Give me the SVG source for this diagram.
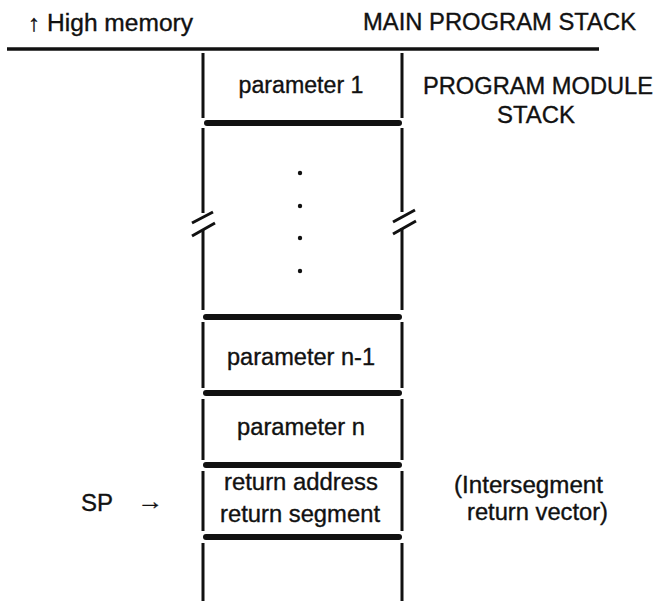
<svg xmlns="http://www.w3.org/2000/svg" width="658" height="601" viewBox="0 0 658 601">
  <style>
    .t { font-family: "Liberation Sans", Arial, sans-serif; font-size: 23px; fill: #111; stroke: #111; stroke-width: 0.35; }
    .c { text-anchor: middle; }
    .wall { stroke: #111; stroke-width: 3; fill: none; }
    .sep { stroke: #111; stroke-width: 6; stroke-linecap: round; fill: none; }
    .brk { stroke: #111; stroke-width: 3; fill: none; }
  </style>
  <rect width="658" height="601" fill="#fff"/>

  <!-- headings -->
  <g id="high-memory">
    <text class="t" x="28" y="31" textLength="165" lengthAdjust="spacingAndGlyphs">↑ High memory</text>
  </g>
  <g id="main-stack-label">
    <text class="t" x="363" y="30" textLength="273" lengthAdjust="spacingAndGlyphs">MAIN PROGRAM STACK</text>
  </g>
  <g id="main-stack-top">
    <line x1="7" y1="49" x2="599" y2="49" stroke="#111" stroke-width="3.5"/>
  </g>
  <g id="module-stack-label">
    <text class="t c" x="538" y="94" textLength="230" lengthAdjust="spacingAndGlyphs">PROGRAM MODULE</text>
    <text class="t c" x="536" y="123" textLength="78" lengthAdjust="spacingAndGlyphs">STACK</text>
  </g>

  <!-- stack walls and slot dividers -->
  <g id="connectors">
    <path class="wall" d="M203 53V118 M203 128V213 M203 230V310 M203 322V388 M203 399V460 M203 471V531 M203 543V601"/>
    <path class="wall" d="M402 53V118 M402 128V212 M402 228V310 M402 322V388 M402 399V460 M402 471V531 M402 543V601"/>
    <line class="sep" x1="207" y1="123" x2="399" y2="123"/>
    <line class="sep" x1="206" y1="317" x2="399" y2="317"/>
    <line class="sep" x1="206" y1="393" x2="399" y2="393"/>
    <line class="sep" x1="206" y1="465" x2="399" y2="465"/>
    <line class="sep" x1="206" y1="537" x2="399" y2="537"/>
    <!-- break marks on the walls -->
    <path class="brk" d="M192 223L213 212 M192 236L215 223"/>
    <path class="brk" d="M393 222L415 210 M393 234L416 221"/>
  </g>

  <!-- stack slots -->
  <g id="slot-parameter-1">
    <text class="t c" x="301" y="93" textLength="125" lengthAdjust="spacingAndGlyphs">parameter 1</text>
  </g>
  <g id="slot-ellipsis">
    <circle cx="300" cy="173" r="2.2" fill="#111"/>
    <circle cx="300" cy="206" r="2.2" fill="#111"/>
    <circle cx="300" cy="238" r="2.2" fill="#111"/>
    <circle cx="300" cy="271" r="2.2" fill="#111"/>
  </g>
  <g id="slot-parameter-n-1">
    <text class="t c" x="301" y="365" textLength="148" lengthAdjust="spacingAndGlyphs">parameter n-1</text>
  </g>
  <g id="slot-parameter-n">
    <text class="t c" x="301" y="435" textLength="128" lengthAdjust="spacingAndGlyphs">parameter n</text>
  </g>
  <g id="slot-return">
    <text class="t c" x="301" y="490" textLength="154" lengthAdjust="spacingAndGlyphs">return address</text>
    <text class="t c" x="300" y="522" textLength="160" lengthAdjust="spacingAndGlyphs">return segment</text>
  </g>

  <!-- stack pointer -->
  <g id="sp">
    <text class="t" x="81" y="511" textLength="32" lengthAdjust="spacingAndGlyphs">SP</text>
    <text class="t" x="137" y="509" textLength="26" lengthAdjust="spacingAndGlyphs">→</text>
  </g>

  <g id="return-vector-note">
    <text class="t" x="454" y="493" textLength="149" lengthAdjust="spacingAndGlyphs">(Intersegment</text>
    <text class="t" x="467" y="520" textLength="141" lengthAdjust="spacingAndGlyphs">return vector)</text>
  </g>
</svg>
